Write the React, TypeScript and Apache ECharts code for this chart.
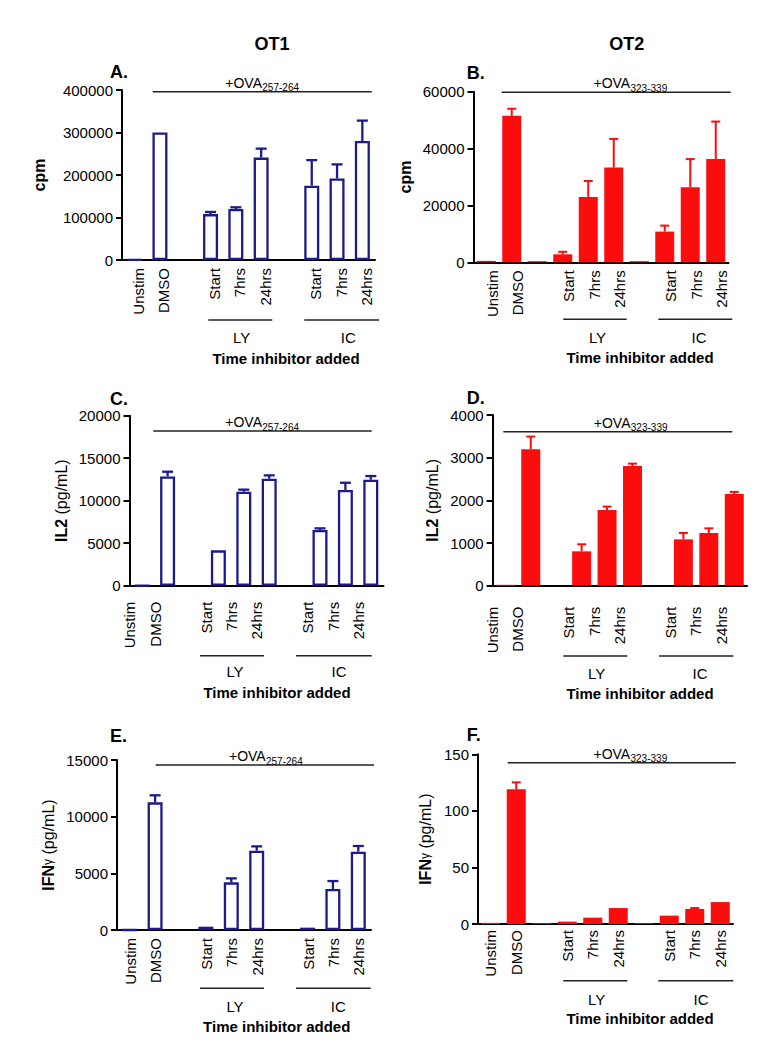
import React, { useEffect, useRef } from "react";
import * as echarts from "echarts";

// ---------- data ----------
const categories = ["Unstim", "DMSO", "", "Start", "7hrs", "24hrs", "", "Start", "7hrs", "24hrs"];

// A. OT1 proliferation (cpm)
const cpmOT1 = [1000, 300000, null, 108000, 120000, 241000, null, 175000, 192000, 280000];
const cpmOT1Err = [0, 0, 0, 5000, 4000, 21000, 0, 60000, 33000, 48000];
// B. OT2 proliferation (cpm)
const cpmOT2 = [500, 51500, 400, 2800, 23000, 33300, 400, 10800, 26400, 36300];
const cpmOT2Err = [0, 2500, 0, 900, 5600, 10100, 0, 2100, 9900, 13200];
// C. OT1 IL2 (pg/mL)
const il2OT1 = [0, 12860, null, 4160, 11060, 12590, null, 6550, 11250, 12470];
const il2OT1Err = [0, 550, 0, 0, 240, 390, 0, 200, 860, 430];
// D. OT2 IL2 (pg/mL)
const il2OT2 = [20, 3195, null, 805, 1773, 2805, null, 1086, 1234, 2148];
const il2OT2Err = [0, 300, 0, 165, 80, 55, 0, 150, 110, 50];
// E. OT1 IFNγ (pg/mL)
const ifnOT1 = [0, 11265, null, 290, 4206, 7000, null, 206, 3618, 6912];
const ifnOT1Err = [0, 620, 0, 0, 350, 380, 0, 0, 700, 500];
// F. OT2 IFNγ (pg/mL)
const ifnOT2 = [1, 119, 0.7, 2.1, 5.6, 14.1, 0.7, 7.4, 13.3, 19.4];
const ifnOT2Err = [0, 6.2, 0, 0, 0, 0, 0, 0, 0.8, 0];

// axis scales
const yMax = [400000, 60000, 20000, 4000, 15000, 150];
const yInterval = [100000, 20000, 5000, 1000, 5000, 50];

const columnTitles = ["OT1", "OT2"];
const panelLetters = ["A.", "B.", "C.", "D.", "E.", "F."];
const peptides = ["257-264", "323-339", "257-264", "323-339", "257-264", "323-339"];
const groupLabels = ["LY", "IC"];
const xTitle = "Time inhibitor added";

// ---------- styling / layout ----------
const FONT = "'Liberation Sans', Arial, Helvetica, sans-serif";
const BLUE = "#1b1b8c";
const RED = "#fb0d0d";

const panelData = [
  [cpmOT1, cpmOT1Err],
  [cpmOT2, cpmOT2Err],
  [il2OT1, il2OT1Err],
  [il2OT2, il2OT2Err],
  [ifnOT1, ifnOT1Err],
  [ifnOT2, ifnOT2Err],
];

const grids = [
  { left: 122, top: 90, width: 253, height: 170 },
  { left: 473.5, top: 91.7, width: 255, height: 170.6 },
  { left: 129.5, top: 415.7, width: 254, height: 170 },
  { left: 492.6, top: 415, width: 254.4, height: 170.7 },
  { left: 117, top: 760, width: 254, height: 170 },
  { left: 478, top: 754.3, width: 255, height: 169.7 },
];
// horizontal offset of the category-label row relative to the bars
const labelShift = [4, 6, -12.4, -13, 0.5, 0];

const yNames = [
  "{b|cpm}",
  "{b|cpm}",
  "{b|IL2} {n|(pg/mL)}",
  "{b|IL2} {n|(pg/mL)}",
  "{b|IFN}{g|γ} {n|(pg/mL)}",
  "{b|IFN}{g|γ} {n|(pg/mL)}",
];
const nameGaps = [75, 60, 60, 52, 61, 45];
const labelMargins = [8, 8, 16, 21, 8, 6];

const ovaLayout = [
  { x1: 152.7, x2: 371.7, y: 91.7, tx: 262.8 },
  { x1: 501.7, x2: 730.7, y: 92.3, tx: 631 },
  { x1: 153.3, x2: 371.7, y: 431, tx: 262.8 },
  { x1: 503.3, x2: 732.3, y: 431.7, tx: 631.3 },
  { x1: 155.7, x2: 374, y: 765, tx: 266.5 },
  { x1: 507.7, x2: 735.7, y: 762.7, tx: 631 },
];

const groupLayout = [
  { ly: [208.3, 272.3], ic: [304.3, 379], y: 320, lyX: 241.7, icX: 348.3, labY: 337.5, timeX: 286, timeY: 358 },
  { ly: [563.3, 626.7], ic: [658.3, 732.3], y: 319.3, lyX: 597.5, icX: 699, labY: 337, timeX: 640, timeY: 357.5 },
  { ly: [200, 264], ic: [296, 371.7], y: 655.7, lyX: 235, icX: 339, labY: 671.5, timeX: 277, timeY: 692 },
  { ly: [563.3, 627.3], ic: [659, 733.3], y: 656, lyX: 596.7, icX: 700, labY: 673, timeX: 640, timeY: 693 },
  { ly: [200, 264], ic: [296, 370.7], y: 988.3, lyX: 235, icX: 338.3, labY: 1006, timeX: 276.7, timeY: 1026 },
  { ly: [563.3, 627.3], ic: [658.3, 733.3], y: 980.7, lyX: 596.7, icX: 701, labY: 999, timeX: 640, timeY: 1018.5 },
];

const letterPos = [
  [110, 71.5], [466.7, 72.5], [110, 398.5], [466.7, 398], [110, 736], [466.7, 735],
];
const titlePos = [[272, 43.7], [626.7, 43.7]];

function text(x: number, y: number, t: string, o: any = {}) {
  const align = o.align || "center";
  const va = o.verticalAlign || "middle";
  return {
    type: "text",
    x,
    y,
    silent: true,
    style: {
      text: t,
      fill: "#000",
      fontSize: o.fontSize || 15,
      fontWeight: o.fontWeight || "normal",
      fontFamily: FONT,
      align,
      textAlign: align,
      verticalAlign: va,
      textVerticalAlign: va,
    },
  };
}
function hline(x1: number, x2: number, y: number, w = 1.5) {
  return {
    type: "line",
    silent: true,
    shape: { x1, y1: y, x2, y2: y },
    style: { stroke: "#222", lineWidth: w },
  };
}

export default function App() {
  const ref = useRef<HTMLDivElement>(null);
  useEffect(() => {
    if (!ref.current) return;
    const chart = echarts.init(ref.current, null, { renderer: "svg" });

    const gridList: any[] = [];
    const xAxis: any[] = [];
    const yAxis: any[] = [];
    const series: any[] = [];
    const graphic: any[] = [];
    const n = grids.length;

    grids.forEach((g) => gridList.push({ ...g, containLabel: false }));
    // label-only grids (same size, shifted horizontally)
    grids.forEach((g, i) => gridList.push({ ...g, left: g.left + labelShift[i], containLabel: false }));

    grids.forEach((g, i) => {
      const isRed = i % 2 === 1;
      const color = isRed ? RED : BLUE;
      const [vals, errs] = panelData[i];
      xAxis[i] = {
        type: "category",
        gridIndex: i,
        data: categories,
        axisLine: { show: true, lineStyle: { color: "#000", width: 2 } },
        axisTick: { show: false },
        axisLabel: { show: false },
      };
      xAxis[n + i] = {
        type: "category",
        gridIndex: n + i,
        data: categories,
        axisLine: { show: false },
        axisTick: { show: false },
        axisLabel: {
          rotate: 90,
          interval: 0,
          fontSize: 15,
          color: "#000",
          fontFamily: FONT,
          margin: labelMargins[i],
        },
      };
      yAxis[i] = {
        type: "value",
        gridIndex: i,
        min: 0,
        max: yMax[i],
        interval: yInterval[i],
        splitLine: { show: false },
        axisLine: { show: true, lineStyle: { color: "#000", width: 2 } },
        axisTick: { show: true, length: 6, lineStyle: { color: "#000", width: 2 } },
        axisLabel: {
          color: "#000",
          fontSize: 15,
          fontFamily: FONT,
          margin: 9,
          formatter: (v: number) => String(v),
        },
        name: yNames[i],
        nameLocation: "middle",
        nameGap: nameGaps[i],
        nameTextStyle: {
          color: "#000",
          fontFamily: FONT,
          fontSize: 16,
          rich: {
            b: { fontWeight: "bold", fontSize: 16, fontFamily: FONT, color: "#000" },
            n: { fontWeight: "normal", fontSize: 16, fontFamily: FONT, color: "#000" },
            g: { fontWeight: "normal", fontSize: 12, fontFamily: FONT, color: "#000" },
          },
        },
      };
      yAxis[n + i] = {
        type: "value",
        gridIndex: n + i,
        min: 0,
        max: yMax[i],
        show: false,
      };
      series.push({
        type: "bar",
        xAxisIndex: i,
        yAxisIndex: i,
        barWidth: isRed ? 19 : 15,
        silent: true,
        data: vals,
        itemStyle: isRed
          ? { color: RED, borderWidth: 0 }
          : { color: "#fff", borderColor: BLUE, borderWidth: 2.3 },
        z: 3,
      });
      const errData: any[] = [];
      (vals as any[]).forEach((v, k) => {
        const e = (errs as number[])[k];
        if (v != null && e > 0) errData.push([k, v, e]);
      });
      series.push({
        type: "custom",
        xAxisIndex: i,
        yAxisIndex: i,
        silent: true,
        z: 4,
        encode: { x: 0, y: 1 },
        data: errData,
        renderItem: (params: any, api: any) => {
          const x = api.value(0);
          const v = api.value(1);
          const e = api.value(2);
          const p0 = api.coord([x, v]);
          const p1 = api.coord([x, v + e]);
          const hw = isRed ? 4.5 : 5.5;
          const lw = isRed ? 2 : 2.3;
          return {
            type: "group",
            children: [
              { type: "line", shape: { x1: p0[0], y1: p0[1], x2: p1[0], y2: p1[1] }, style: { stroke: color, lineWidth: lw } },
              { type: "line", shape: { x1: p1[0] - hw, y1: p1[1], x2: p1[0] + hw, y2: p1[1] }, style: { stroke: color, lineWidth: lw } },
            ],
          };
        },
      });

      // panel letter
      graphic.push(text(letterPos[i][0], letterPos[i][1], panelLetters[i], { fontSize: 18, fontWeight: "bold", align: "left" }));
      // +OVA bracket
      const o = ovaLayout[i];
      graphic.push(hline(o.x1, o.x2, o.y, 1.5));
      graphic.push(text(o.tx - 37.5, o.y - 9, "+OVA", { fontSize: 14, align: "left" }));
      graphic.push(text(o.tx - 0.5, o.y - 4, peptides[i], { fontSize: 10, align: "left" }));
      // group lines and labels
      const gl = groupLayout[i];
      graphic.push(hline(gl.ly[0], gl.ly[1], gl.y, 1.5));
      graphic.push(hline(gl.ic[0], gl.ic[1], gl.y, 1.5));
      graphic.push(text(gl.lyX, gl.labY, groupLabels[0], { fontSize: 15 }));
      graphic.push(text(gl.icX, gl.labY, groupLabels[1], { fontSize: 15 }));
      graphic.push(text(gl.timeX, gl.timeY, xTitle, { fontSize: 15, fontWeight: "bold" }));
    });

    titlePos.forEach((p, k) => {
      graphic.push(text(p[0], p[1], columnTitles[k], { fontSize: 18, fontWeight: "bold" }));
    });

    chart.setOption({
      animation: false,
      backgroundColor: "#fff",
      textStyle: { fontFamily: FONT },
      grid: gridList,
      xAxis,
      yAxis,
      series,
      graphic,
    });
    return () => chart.dispose();
  }, []);

  return (
    <div
      ref={ref}
      style={{ position: "absolute", left: 0, top: 0, width: 776, height: 1048, background: "#fff" }}
    />
  );
}
